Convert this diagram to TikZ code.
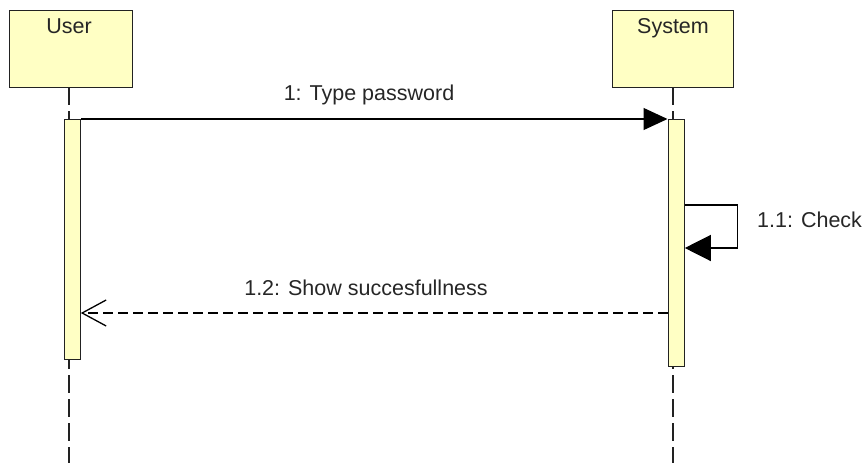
\documentclass[tikz,border=0pt]{standalone}
\usepackage{fontspec}
\setmainfont{Liberation Sans}
\usetikzlibrary{arrows.meta}
\definecolor{umlfill}{HTML}{FFFFC4}
\definecolor{umlline}{HTML}{222222}
\tikzset{
  lifebox/.style={draw=umlline, fill=umlfill, line width=1.3pt, minimum width=123pt, minimum height=77pt, inner sep=0pt, anchor=north west},
  actbar/.style={draw=umlline, fill=umlfill, line width=1.3pt, minimum width=16pt, inner sep=0pt, anchor=north west},
  lifeline/.style={draw=umlline, line width=1.3pt, dash pattern=on 18pt off 6pt},
  txt/.style={font=\fontsize{21.5}{24}\selectfont, text=black!85, inner sep=0pt, anchor=base},
  call/.style={draw=black, line width=1.3pt, -{Triangle[length=24pt,width=22pt]}},
  selfcall/.style={draw=black, line width=1.3pt, -{Triangle[length=26pt,width=26pt]}},
  reply/.style={draw=black, line width=1.3pt, dash pattern=on 10pt off 5pt, -{Straight Barb[length=24pt,width=26pt]}}
}
\begin{document}
\begin{tikzpicture}[x=1pt,y=-1pt]
  \useasboundingbox (0,0) rectangle (865,463);
  % participant heads
  \node[lifebox] (user) at (9,10) {};
  \node[lifebox, minimum width=121pt] (sys) at (612,10) {};
  \node[txt] (userlbl) at (69,34) {User};
  \node[txt] (syslbl) at (673,33) {System};
  % lifelines
  \coordinate (userend) at (69,463);
  \coordinate (sysend) at (673,463);
  \draw[lifeline] (69,87) -- (userend);
  \draw[lifeline] (673,87) -- (sysend);
  % activation bars
  \node[actbar, minimum height=240pt] (ubar) at (63.5,119) {};
  \node[actbar, minimum height=247pt] (sbar) at (667.5,119) {};
  % messages
  \draw[call] (ubar.north east) -- (sbar.north west);
  \node[txt] (m1) at (369,100) {1: Type password};
  \coordinate (selfa) at ([yshift=-86pt]sbar.north east);
  \coordinate (selfb) at ([xshift=53pt]selfa);
  \coordinate (selfc) at ([xshift=53pt, yshift=-43pt]selfa);
  \coordinate (selfd) at ([yshift=-43pt]selfa);
  \draw[selfcall] (selfa) -- (selfb) -- (selfc) -- (selfd);
  \node[txt, anchor=base west] (m11) at (757,227) {1.1: Check};
  \draw[reply] ([yshift=-194pt]sbar.north west) -- ([yshift=-194pt]ubar.north east);
  \node[txt] (m12) at (366,295) {1.2: Show succesfullness};
\end{tikzpicture}
\end{document}
